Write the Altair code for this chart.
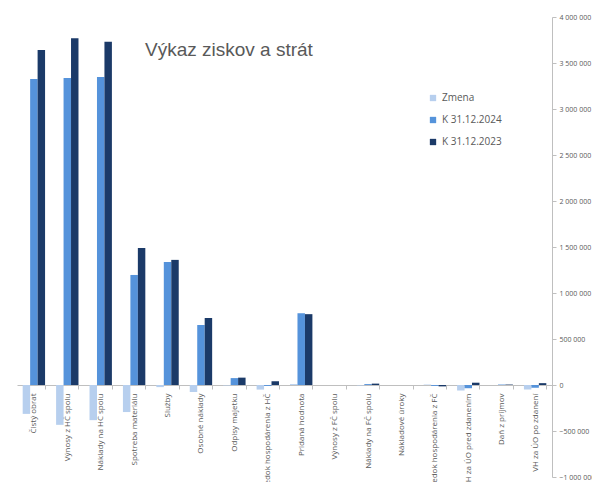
import altair as alt
import pandas as pd

categories = [
    "Čistý obrat", "Výnosy z HČ spolu", "Náklady na HČ spolu", "Spotreba materiálu",
    "Služby", "Osobné náklady", "Odpisy majetku", "Výsledok hospodárenia z HČ",
    "Pridaná hodnota", "Výnosy z FČ spolu", "Náklady na FČ spolu", "Nákladové úroky",
    "Výsledok hospodárenia z FČ", "VH za ÚO pred zdanením", "Daň z príjmov", "VH za ÚO po zdanení",
]
series = ["Zmena", "K 31.12.2024", "K 31.12.2023"]
zmena = [-314000, -433000, -382000, -294000, -23000, -76000, -5000, -50000,
         10000, 0, -5000, 0, 5000, -60000, 0, -50000]
k2024 = [3326000, 3337000, 3348000, 1196000, 1337000, 652000, 75000, -10000,
         780000, 0, 10000, 0, -10000, -35000, 5000, -30000]
k2023 = [3640000, 3770000, 3730000, 1490000, 1360000, 728000, 80000, 40000,
         770000, 0, 15000, 0, -15000, 25000, 5000, 20000]
colors = ["#b7cfee", "#5593db", "#1b3a68"]
y_ticks = [-1000000, -500000, 0, 500000, 1000000, 1500000, 2000000, 2500000,
           3000000, 3500000, 4000000]

rows = []
for s, vals in zip(series, [zmena, k2024, k2023]):
    for c, v in zip(categories, vals):
        rows.append({"cat": c, "series": s, "value": v})
df = pd.DataFrame(rows)

W, H = 535, 460
below_zero_px = H / 5

chart = alt.Chart(df).mark_bar().encode(
    x=alt.X("cat:N", sort=categories,
            scale=alt.Scale(paddingInner=0.33, paddingOuter=0.17),
            axis=alt.Axis(title=None, labelAngle=-90, offset=-below_zero_px, labelLimit=200,
                          labelFontSize=8, labelColor="#595959", labelPadding=4,
                          domainColor="#bfbfbf", tickColor="#bfbfbf", tickSize=4,
                          tickBand="extent", labelFont="Open Sans")),
    xOffset=alt.XOffset("series:N", sort=series, scale=alt.Scale(domain=series, paddingInner=0)),
    y=alt.Y("value:Q", scale=alt.Scale(domain=[-1000000, 4000000], nice=False, zero=False),
            axis=alt.Axis(title=None, orient="right", values=y_ticks, grid=False,
                          labelExpr="replace(format(datum.value, ','), /,/g, ' ')",
                          labelFontSize=7, labelColor="#595959", labelFont="Open Sans",
                          domainColor="#bfbfbf", tickColor="#bfbfbf", tickSize=4,
                          labelPadding=3)),
    color=alt.Color("series:N", sort=series,
                    scale=alt.Scale(domain=series, range=colors),
                    legend=alt.Legend(title=None, orient="none", legendX=411, legendY=76,
                                      symbolType="square", symbolSize=40, symbolStrokeWidth=0,
                                      labelFontSize=10, labelColor="#595959",
                                      labelFont="Open Sans", rowPadding=12)),
).properties(
    width=W, height=H,
    title=alt.TitleParams("Výkaz ziskov a strát", anchor="start", frame="group",
                          dx=128, dy=47, offset=0, fontSize=19, fontWeight="normal",
                          color="#595959", font="Liberation Sans"),
    autosize=alt.AutoSizeParams(type="none"),
    padding={"left": 9, "top": 9, "right": 40, "bottom": 5},
).configure_view(stroke=None)

chart.save("out.html", embed_options={"renderer": "svg", "actions": False})
